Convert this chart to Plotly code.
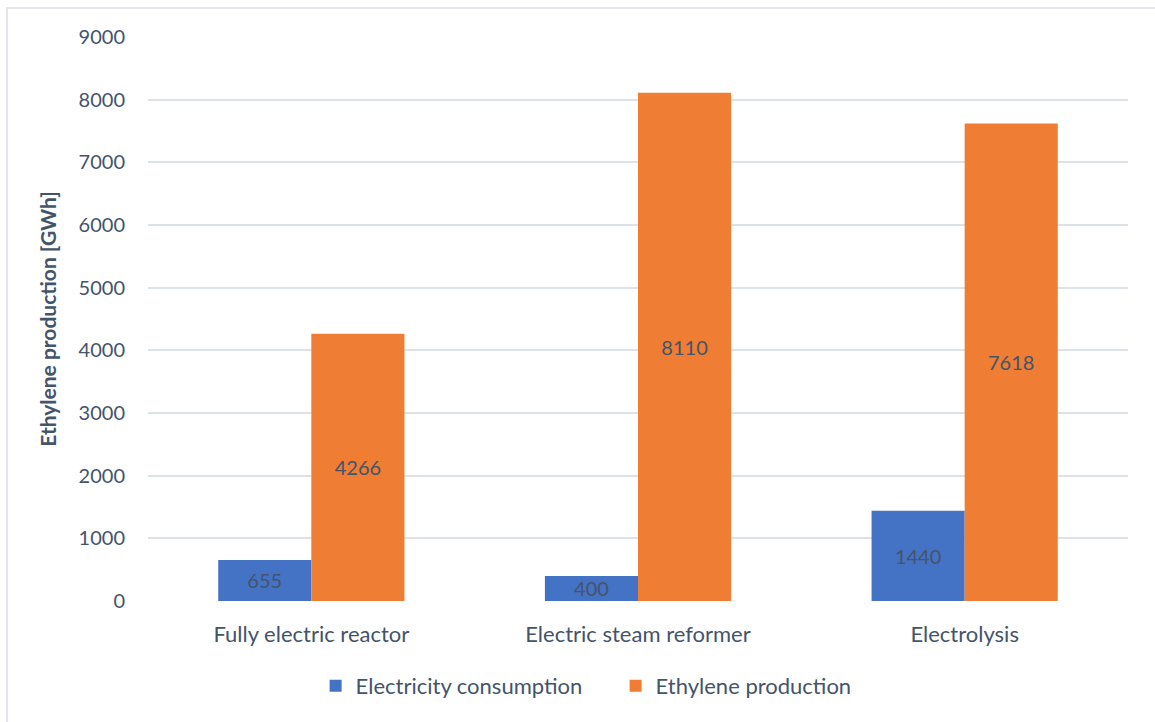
import plotly.graph_objects as go

# Data
categories = ["Fully electric reactor", "Electric steam reformer", "Electrolysis"]
electricity_consumption = [655, 400, 1440]
ethylene_production = [4266, 8110, 7618]
y_ticks = [0, 1000, 2000, 3000, 4000, 5000, 6000, 7000, 8000, 9000]

W, H = 1155, 722
ML, MR, MT, MB = 148, 27, 37, 121
TEXT = "#44546A"
FONT = "Lato"

fig = go.Figure()
fig.add_trace(go.Bar(
    name="Electricity consumption", x=categories, y=electricity_consumption,
    marker=dict(color="#4472C4", line=dict(width=0)),
    text=[str(v) for v in electricity_consumption], textposition="inside",
    insidetextanchor="middle", textfont=dict(color=TEXT, size=20, family=FONT),
))
fig.add_trace(go.Bar(
    name="Ethylene production", x=categories, y=ethylene_production,
    marker=dict(color="#EF7D33", line=dict(width=0)),
    text=[str(v) for v in ethylene_production], textposition="inside",
    insidetextanchor="middle", textfont=dict(color=TEXT, size=20, family=FONT),
))

pw = W - ML - MR
ph = H - MT - MB
# outer chart frame
fig.add_shape(type="rect", xref="paper", yref="paper",
              x0=(7 - ML) / pw, x1=(W + 10 - ML) / pw,
              y0=(H - MB - (H + 10)) / ph, y1=(H - MB - 8) / ph,
              line=dict(color="#D9DEE5", width=1.5), fillcolor="rgba(0,0,0,0)", layer="below")

fig.update_layout(
    width=W, height=H,
    margin=dict(l=ML, r=MR, t=MT, b=MB),
    paper_bgcolor="white", plot_bgcolor="white",
    barmode="group", bargap=0.43, bargroupgap=0,
    uniformtext=dict(minsize=20, mode="show"),
    font=dict(family=FONT, color=TEXT, size=20),
    showlegend=True,
    legend=dict(orientation="h", xref="container", yref="container",
                x=0.533, xanchor="center", y=1 - 686 / H, yanchor="middle",
                font=dict(size=22, color=TEXT, family=FONT),
                itemwidth=30, entrywidth=255, traceorder="normal"),
    xaxis=dict(showgrid=False, showline=False, ticks="", ticklabelstandoff=18,
               tickfont=dict(size=22, color=TEXT, family=FONT)),
    yaxis=dict(range=[0, 9000], tickvals=y_ticks, showline=False, zeroline=False,
               gridcolor="#DDE1E8", gridwidth=1.5, ticks="",
               tickfont=dict(size=20, color=TEXT, family=FONT), ticklabelstandoff=22,
               title=dict(text="<b>Ethylene production [GWh]</b>", standoff=16,
                          font=dict(size=21, color=TEXT, family=FONT))),
)

fig.write_html("out.html")
